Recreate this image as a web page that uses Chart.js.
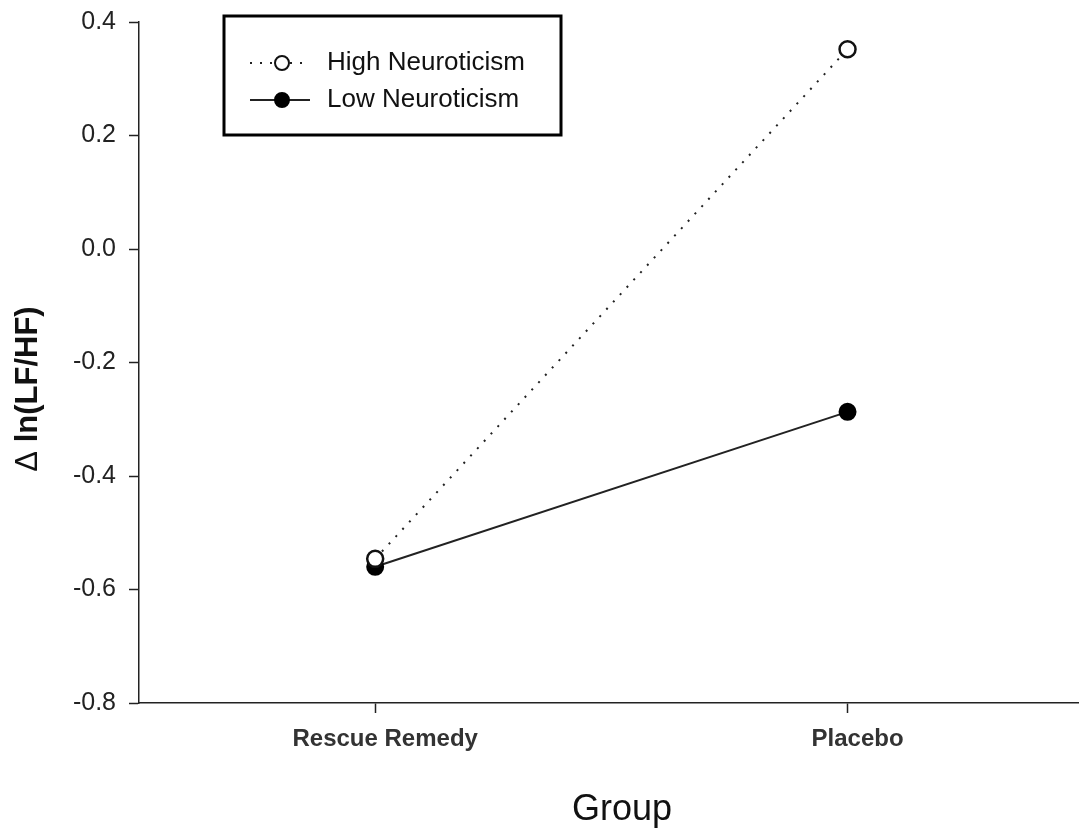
<!DOCTYPE html>
<html>
<head>
<meta charset="utf-8">
<script src="https://cdn.jsdelivr.net/npm/chart.js@4.4.1/dist/chart.umd.min.js"></script>
<style>
  html, body { margin: 0; padding: 0; background: #fff; }
  #wrap { width: 1079px; height: 830px; }
</style>
</head>
<body>
<div id="wrap"><canvas id="chart" width="1079" height="830"></canvas></div>
<script>
// Données
const groups = ['Rescue Remedy', 'Placebo'];
const groupPos = [1, 2];
const highNeuro = [-0.546, 0.352];
const lowNeuro = [-0.560, -0.287];
const yTicks = [-0.8, -0.6, -0.4, -0.2, 0.0, 0.2, 0.4];
const seriesNames = ['High Neuroticism', 'Low Neuroticism'];
const yTitleSymbol = 'Δ';
const yTitleText = ' ln(LF/HF)';
const xTitle = 'Group';

const FONT = "'Liberation Sans', Arial, sans-serif";

// on garde la zone du graphe fixe (pas de marge auto des axes)
function noPadding(s) {
    s.paddingTop = 0;
    s.paddingBottom = 0;
    s.paddingLeft = 0;
    s.paddingRight = 0;
}

// Légende encadrée + titres d'axes
const extras = {
    id: 'extras',
    afterDraw(chart) {
        const ctx = chart.ctx;
        ctx.save();
        ctx.lineWidth = 3;
        ctx.strokeStyle = '#000';
        ctx.strokeRect(224, 16, 337, 119);
        chart.data.datasets.forEach((ds, i) => {
            const y = 63 + i * 37;
            ctx.beginPath();
            ctx.setLineDash(ds.borderDash || []);
            ctx.lineWidth = ds.borderWidth;
            ctx.strokeStyle = ds.borderColor;
            ctx.moveTo(250, y);
            ctx.lineTo(310, y);
            ctx.stroke();
            ctx.setLineDash([]);
            ctx.beginPath();
            ctx.arc(282, y, 7, 0, Math.PI * 2);
            ctx.fillStyle = ds.pointBackgroundColor;
            ctx.fill();
            ctx.lineWidth = 2;
            ctx.strokeStyle = ds.pointBorderColor;
            ctx.stroke();
            ctx.fillStyle = '#111';
            ctx.font = '26px ' + FONT;
            ctx.textBaseline = 'middle';
            ctx.textAlign = 'left';
            ctx.fillText(ds.label, 327, y);
        });

        // titre axe x
        ctx.font = '36px ' + FONT;
        ctx.fillStyle = '#111';
        ctx.textAlign = 'center';
        ctx.textBaseline = 'alphabetic';
        ctx.fillText(xTitle, 622, 820);

        // titre axe y (delta en maigre, reste en gras)
        ctx.translate(28, 389);
        ctx.rotate(-Math.PI / 2);
        ctx.textAlign = 'left';
        ctx.textBaseline = 'middle';
        ctx.font = '31px ' + FONT;
        const w1 = ctx.measureText(yTitleSymbol).width;
        ctx.font = 'bold 31px ' + FONT;
        const w2 = ctx.measureText(yTitleText).width;
        const x0 = -(w1 + w2) / 2;
        ctx.font = '31px ' + FONT;
        ctx.fillText(yTitleSymbol, x0, 0);
        ctx.font = 'bold 31px ' + FONT;
        ctx.fillText(yTitleText, x0 + w1, 0);
        ctx.restore();
    }
};

const chart = new Chart(document.getElementById('chart'), {
    type: 'line',
    data: {
        datasets: [{
            label: seriesNames[0],
            data: groupPos.map((x, i) => ({ x: x, y: highNeuro[i] })),
            borderColor: '#222',
            borderWidth: 2,
            borderDash: [2, 8],
            pointRadius: 8,
            pointBorderWidth: 2.5,
            pointBackgroundColor: '#fff',
            pointBorderColor: '#111'
        }, {
            label: seriesNames[1],
            data: groupPos.map((x, i) => ({ x: x, y: lowNeuro[i] })),
            borderColor: '#222',
            borderWidth: 2,
            pointRadius: 8,
            pointBorderWidth: 2,
            pointBackgroundColor: '#000',
            pointBorderColor: '#000'
        }]
    },
    options: {
        responsive: false,
        devicePixelRatio: 1,
        animation: false,
        clip: false,
        layout: { autoPadding: false, padding: { top: 22, left: 0, right: 0, bottom: 0 } },
        plugins: {
            legend: { display: false },
            tooltip: { enabled: false }
        },
        scales: {
            x: {
                type: 'linear',
                min: 0.5,
                max: 2.49,
                afterBuildTicks: s => { s.ticks = groupPos.map(v => ({ value: v })); },
                afterFit: s => { s.height = 127; noPadding(s); },
                ticks: {
                    callback: v => groups[groupPos.indexOf(v)],
                    font: { family: FONT, size: 24, weight: 'bold' },
                    color: '#333',
                    padding: 12,
                    labelOffset: 10,
                    maxRotation: 0
                },
                grid: { drawOnChartArea: false, tickLength: 10, color: '#222', tickWidth: 1.5 },
                border: { color: '#222', width: 1.5 }
            },
            y: {
                min: -0.8,
                max: 0.4,
                afterBuildTicks: s => { s.ticks = yTicks.map(v => ({ value: v })); },
                afterFit: s => { s.width = 139; noPadding(s); },
                ticks: {
                    callback: v => v.toFixed(1),
                    font: { family: FONT, size: 25 },
                    color: '#222',
                    padding: 13
                },
                grid: { drawOnChartArea: false, tickLength: 10, color: '#222', tickWidth: 1.5 },
                border: { color: '#222', width: 1.5 }
            }
        }
    },
    plugins: [extras]
});
</script>
</body>
</html>
